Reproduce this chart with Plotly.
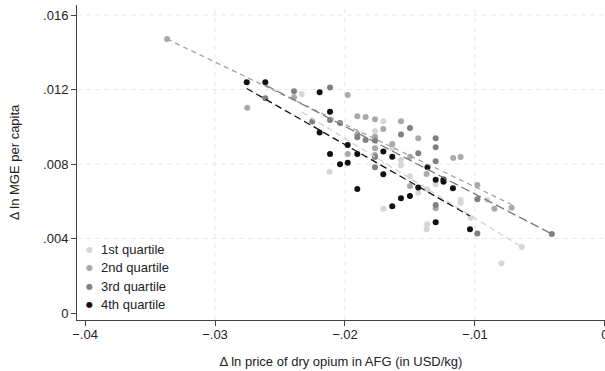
import plotly.graph_objects as go

# ---- data ----
q1_x = [-0.02333, -0.02118, -0.01705, -0.01769, -0.01636, -0.01569, -0.01705, -0.01500, -0.01436, -0.01367,
        -0.01367, -0.01372, -0.01302, -0.01110, -0.01110, -0.01033, -0.00905, -0.00796, -0.00638, -0.01569]
q1_y = [0.011758, 0.007587, 0.010292, 0.009772, 0.008843, 0.007930, 0.005600, 0.007340, 0.006459, 0.006641,
        0.004762, 0.004494, 0.006910, 0.006067, 0.005922, 0.005117, 0.006067, 0.002674, 0.003544, 0.008215]

q2_x = [-0.03369, -0.02752, -0.02392, -0.01979, -0.01905, -0.01841, -0.01769, -0.01569, -0.01705, -0.01905,
        -0.01769, -0.01636, -0.01769, -0.01979, -0.01769, -0.01436, -0.01500, -0.01167, -0.01110, -0.01372,
        -0.01500, -0.01302, -0.00981, -0.00850, -0.00718]
q2_y = [0.014711, 0.011023, 0.011581, 0.011705, 0.010561, 0.010523, 0.010400, 0.010292, 0.009879, 0.009611,
        0.009466, 0.009074, 0.008843, 0.008537, 0.008483, 0.009380, 0.008392, 0.008322, 0.008376, 0.007463,
        0.006819, 0.005621, 0.006872, 0.005600, 0.005654]

q3_x = [-0.02613, -0.02392, -0.02252, -0.02115, -0.02115, -0.02038, -0.01905, -0.01841, -0.01769, -0.01569,
        -0.01500, -0.01769, -0.01769, -0.01436, -0.01302, -0.01302, -0.01302, -0.01302, -0.00981, -0.00981,
        -0.00408]
q3_y = [0.011527, 0.011903, 0.010282, 0.012107, 0.010362, 0.010201, 0.009433, 0.009289, 0.009262, 0.009584,
        0.009933, 0.008376, 0.007823, 0.008574, 0.009380, 0.008902, 0.008150, 0.005799, 0.006105, 0.004268,
        0.004242]

q4_x = [-0.02756, -0.02613, -0.02195, -0.02115, -0.02195, -0.02115, -0.01979, -0.01905, -0.01705, -0.01636,
        -0.01979, -0.02038, -0.01705, -0.01365, -0.01302, -0.01242, -0.01242, -0.01169, -0.01436, -0.01500,
        -0.01569, -0.01636, -0.01905, -0.01302, -0.01038]
q4_y = [0.012387, 0.012387, 0.011855, 0.010808, 0.009691, 0.008537, 0.009020, 0.008537, 0.008671, 0.008392,
        0.008070, 0.007984, 0.007447, 0.007823, 0.007157, 0.007168, 0.007050, 0.006695, 0.006738, 0.006282,
        0.006158, 0.005729, 0.006658, 0.004870, 0.004494]

group_names = ["1st quartile", "2nd quartile", "3rd quartile", "4th quartile"]
fit_slope = [-0.4276, -0.3352, -0.3627, -0.3985]
fit_intercept = [0.000816, 0.003418, 0.002763, 0.001071]

x_tick_vals = [-0.04, -0.03, -0.02, -0.01, 0.0]
x_tick_text = ["\u2212.04", "\u2212.03", "\u2212.02", "\u2212.01", "0"]
y_tick_vals = [0.0, 0.004, 0.008, 0.012, 0.016]
y_tick_text = ["0", ".004", ".008", ".012", ".016"]
x_grid_vals = [-0.03, -0.02, -0.01]
y_grid_vals = [0.004, 0.008, 0.012, 0.016]

# ---- styles ----
marker_colors = ["#d6d6d6", "#a9a9a9", "#808080", "#111111"]
line_colors = ["#d2d2d2", "#a3a3a3", "#7a7a7a", "#111111"]
line_dashes = ["6px,4px", "5px,4px", "9px,4px", "7px,4px"]
grid_color = "#e8e8e8"
axis_color = "#444444"
text_color = "#222222"
font_family = "Liberation Sans, Arial, sans-serif"

xs = [q1_x, q2_x, q3_x, q4_x]
ys = [q1_y, q2_y, q3_y, q4_y]

fig = go.Figure()

# gridlines (dashed, only at the inner ticks, as in the reference)
for gx in x_grid_vals:
    fig.add_shape(type="line", xref="x", yref="paper", x0=gx, x1=gx, y0=0, y1=1,
                  line=dict(color=grid_color, width=1, dash="5px,4px"), layer="below")
for gy in y_grid_vals:
    fig.add_shape(type="line", xref="paper", yref="y", x0=0, x1=1, y0=gy, y1=gy,
                  line=dict(color=grid_color, width=1, dash="5px,4px"), layer="below")

for i in range(4):
    fig.add_trace(go.Scatter(
        x=xs[i], y=ys[i], mode="markers", name=group_names[i], showlegend=False,
        marker=dict(color=marker_colors[i], size=6, line=dict(width=0)),
    ))

for i in range(4):
    x0, x1 = min(xs[i]), max(xs[i])
    fig.add_trace(go.Scatter(
        x=[x0, x1],
        y=[fit_intercept[i] + fit_slope[i] * x0, fit_intercept[i] + fit_slope[i] * x1],
        mode="lines", showlegend=False, hoverinfo="skip",
        line=dict(color=line_colors[i], width=1.3, dash=line_dashes[i]),
    ))

# legend (drawn as text so that symbol/label spacing matches the reference)
plot_left, plot_w, plot_top, plot_h = 77, 528, 5, 315
legend_rows_px = [249, 267.5, 286, 304.5]
for i in range(4):
    yp = 1 - (legend_rows_px[i] - plot_top) / plot_h
    fig.add_annotation(xref="paper", yref="paper", x=(89 - plot_left) / plot_w, y=yp,
                       text="\u25cf", showarrow=False, xanchor="center", yanchor="middle",
                       font=dict(size=8, color=marker_colors[i], family="DejaVu Sans"))
    fig.add_annotation(xref="paper", yref="paper", x=(99 - plot_left) / plot_w, y=yp,
                       text=group_names[i], showarrow=False, xanchor="left", yanchor="middle",
                       font=dict(size=13, color=text_color, family=font_family))

fig.update_layout(
    width=605, height=371,
    margin=dict(l=77, r=0, t=5, b=51),
    paper_bgcolor="white", plot_bgcolor="white",
    font=dict(family=font_family, size=13, color=text_color),
    showlegend=False,
    hovermode=False,
    xaxis=dict(
        range=[-0.04062, 0.00001], automargin=False,
        tickvals=x_tick_vals, ticktext=x_tick_text, ticklabeloverflow="allow",
        ticklabelstandoff=-3,
        ticks="outside", ticklen=5, tickcolor=axis_color, tickwidth=1,
        showline=True, linecolor=axis_color, linewidth=1,
        showgrid=False, zeroline=False,
        tickfont=dict(size=13),
        title=dict(text="\u0394 ln price of dry opium in AFG (in USD/kg)", font=dict(size=13), standoff=16),
    ),
    yaxis=dict(
        range=[-0.000376, 0.016537], automargin=False,
        tickvals=y_tick_vals, ticktext=y_tick_text,
        ticks="outside", ticklen=5, tickcolor=axis_color, tickwidth=1,
        showline=True, linecolor=axis_color, linewidth=1,
        showgrid=False, zeroline=False,
        tickfont=dict(size=13),
        title=dict(text="\u0394 ln MGE per capita", font=dict(size=13), standoff=20),
    ),
)

fig.write_html("out.html", config={"displayModeBar": False, "staticPlot": True},
               post_script="document.body.style.margin='0';")
